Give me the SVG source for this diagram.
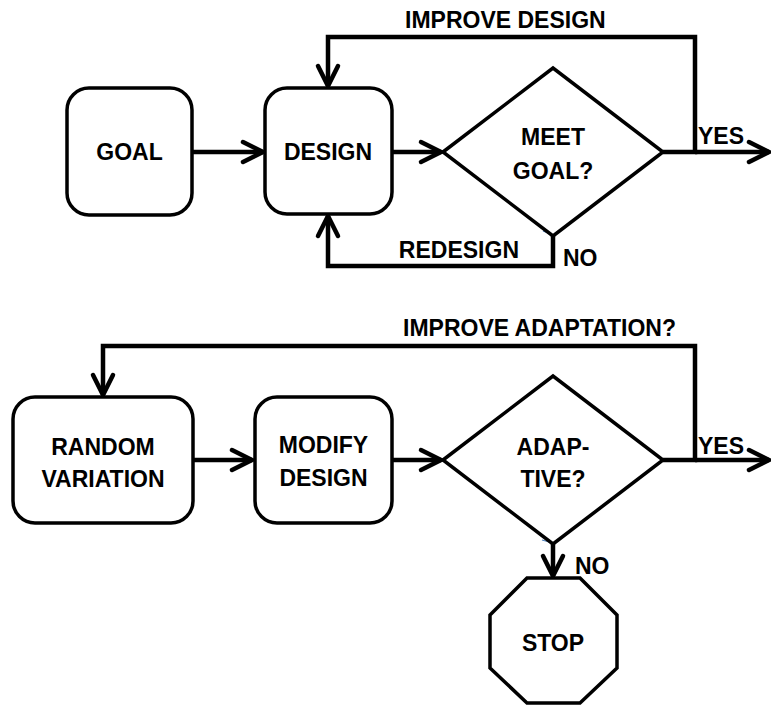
<svg xmlns="http://www.w3.org/2000/svg" width="771" height="707" viewBox="0 0 771 707">
<defs>
<style>
.box{fill:#fff;stroke:#000;stroke-width:3.5}
.con{fill:none;stroke:#000;stroke-width:4.5;stroke-linejoin:miter}
.lbl{font-family:"Liberation Sans",Arial,sans-serif;font-weight:bold;font-size:23px;fill:#000}
.mid{text-anchor:middle}
.end{text-anchor:end}
.blue{fill:none;stroke:#4a7ebb;stroke-width:1.2}
</style>
<marker id="ah" markerUnits="userSpaceOnUse" viewBox="-24 -14 28 28" refX="0" refY="0" markerWidth="28" markerHeight="28" orient="auto" overflow="visible">
<path d="M-20,-10 L0,0 L-20,10" fill="none" stroke="#000" stroke-width="4.5" stroke-linecap="round" stroke-linejoin="miter"/>
</marker>
</defs>
<rect width="771" height="707" fill="#fff"/>

<g id="connectors">
<line class="con" x1="192" y1="152" x2="263" y2="152" marker-end="url(#ah)"/>
<line class="con" x1="392" y1="152" x2="441" y2="152" marker-end="url(#ah)"/>
<polyline class="con" points="663,152 695,152 695,37 328,37 328,86" marker-end="url(#ah)"/>
<line class="con" x1="695" y1="152" x2="769" y2="152" marker-end="url(#ah)"/>
<polyline class="con" points="553,236 553,266 328,266 328,216" marker-end="url(#ah)"/>
<line class="con" x1="193" y1="460" x2="252" y2="460" marker-end="url(#ah)"/>
<line class="con" x1="392" y1="460" x2="441" y2="460" marker-end="url(#ah)"/>
<polyline class="con" points="663,460 695,460 695,346 103,346 103,395" marker-end="url(#ah)"/>
<line class="con" x1="695" y1="460" x2="769" y2="460" marker-end="url(#ah)"/>
<line class="con" x1="553" y1="544" x2="553" y2="576" marker-end="url(#ah)"/>
<path class="blue" d="M551,224 L553,235 L543,231"/>
<path class="blue" d="M550,532 L553,543 L542,540"/>
<text class="lbl" x="405" y="28">IMPROVE DESIGN</text>
<text class="lbl" x="698" y="144">YES</text>
<text class="lbl end" x="519" y="258">REDESIGN</text>
<text class="lbl" x="563" y="266">NO</text>
<text class="lbl" x="403" y="336">IMPROVE ADAPTATION?</text>
<text class="lbl" x="698" y="454">YES</text>
<text class="lbl" x="575" y="574">NO</text>
</g>

<g id="goal">
<rect class="box" x="67" y="88" width="125" height="127" rx="22"/>
<text class="lbl mid" x="129.5" y="160">GOAL</text>
</g>
<g id="design">
<rect class="box" x="265" y="88" width="127" height="126" rx="22"/>
<text class="lbl mid" x="328" y="160">DESIGN</text>
</g>
<g id="meet-goal">
<polygon class="box" points="443,152 553,68 663,152 553,236"/>
<text class="lbl mid" x="553" y="145">MEET</text>
<text class="lbl mid" x="553" y="179">GOAL?</text>
</g>
<g id="random-variation">
<rect class="box" x="13" y="397" width="180" height="126" rx="22"/>
<text class="lbl mid" x="103" y="455">RANDOM</text>
<text class="lbl mid" x="103" y="487">VARIATION</text>
</g>
<g id="modify-design">
<rect class="box" x="255" y="397" width="137" height="126" rx="22"/>
<text class="lbl mid" x="323.5" y="453">MODIFY</text>
<text class="lbl mid" x="323.5" y="486">DESIGN</text>
</g>
<g id="adaptive">
<polygon class="box" points="443,460 553,376 663,460 553,544"/>
<text class="lbl mid" x="553" y="455">ADAP-</text>
<text class="lbl mid" x="553" y="487">TIVE?</text>
</g>
<g id="stop">
<polygon class="box" points="527,578 580,578 617,615 617,668 580,703 527,703 490,668 490,615"/>
<text class="lbl mid" x="553" y="651">STOP</text>
</g>
</svg>
